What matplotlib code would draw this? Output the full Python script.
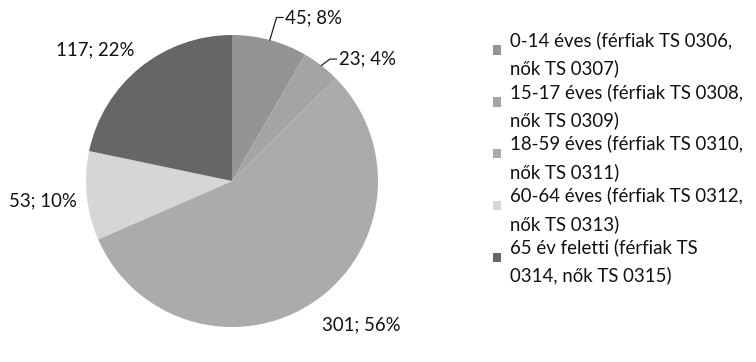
import numpy as np
import matplotlib
matplotlib.use("Agg")
import matplotlib.pyplot as plt
from matplotlib.patches import Patch, Rectangle
from matplotlib.legend_handler import HandlerPatch

plt.rcParams['font.family'] = ['Lato', 'DejaVu Sans']

categories = [
    "0-14 éves (férfiak TS 0306,\nnők TS 0307)",
    "15-17 éves (férfiak TS 0308,\nnők TS 0309)",
    "18-59 éves (férfiak TS 0310,\nnők TS 0311)",
    "60-64 éves (férfiak TS 0312,\nnők TS 0313)",
    "65 év feletti (férfiak TS\n0314, nők TS 0315)",
]
values = [45, 23, 301, 53, 117]
percents = [8, 4, 56, 10, 22]
colors = ["#949494", "#a4a4a4", "#ababab", "#d6d6d6", "#666666"]

W, H = 756, 362
fig = plt.figure(figsize=(W / 100, H / 100), dpi=100)
cx, cy, R = 232, 181, 146
ax = fig.add_axes([(cx - R) / W, (H - cy - R) / H, 2 * R / W, 2 * R / H])
wedges, _ = ax.pie(values, colors=colors, startangle=90, counterclock=False,
                   radius=1.0, wedgeprops=dict(linewidth=0))
ax.set_xlim(-1, 1)
ax.set_ylim(-1, 1)
ax.set_aspect('equal')
ax.axis('off')

labels = [f"{v}; {p}%" for v, p in zip(values, percents)]
fs = 13.4
# label placements (text anchor positions in data units)
place = [
    dict(xy=(0.365, 1.12), ha='left', leader=True),
    dict(xy=(0.73, 0.835), ha='left', leader=True),
    dict(xy=(0.615, -0.985), ha='left', leader=False),
    dict(xy=(-1.065, -0.135), ha='right', leader=False),
    dict(xy=(-0.67, 0.895), ha='right', leader=False),
]
for w, lab, pl in zip(wedges, labels, place):
    tx, ty = pl['xy']
    ax.text(tx, ty, lab, ha=pl['ha'], va='center', fontsize=fs, color='#111111',
            clip_on=False)
    if pl['leader']:
        mid = np.deg2rad((w.theta1 + w.theta2) / 2)
        ex, ey = np.cos(mid), np.sin(mid)
        ax.plot([ex, tx - 0.06, tx - 0.015], [ey, ty, ty], color='#222222',
                lw=0.9, clip_on=False)


def top_square(legend, orig_handle, xdescent, ydescent, width, height, fontsize):
    return Rectangle((-xdescent, -ydescent + 0.24 * fontsize), width, height)


handles = [Patch(facecolor=c, edgecolor='none') for c in colors]
leg = fig.legend(handles, categories, loc='upper left',
                 bbox_to_anchor=(493 / W, 1 - 31 / H), frameon=False,
                 fontsize=fs, handlelength=0.42, handleheight=0.42,
                 handletextpad=0.5, labelspacing=0.3, borderpad=0,
                 borderaxespad=0,
                 handler_map={Patch: HandlerPatch(patch_func=top_square)})
for t in leg.get_texts():
    t.set_linespacing(1.7)
    t.set_color('#111111')

fig.savefig("out.png", dpi=100, facecolor='white')
